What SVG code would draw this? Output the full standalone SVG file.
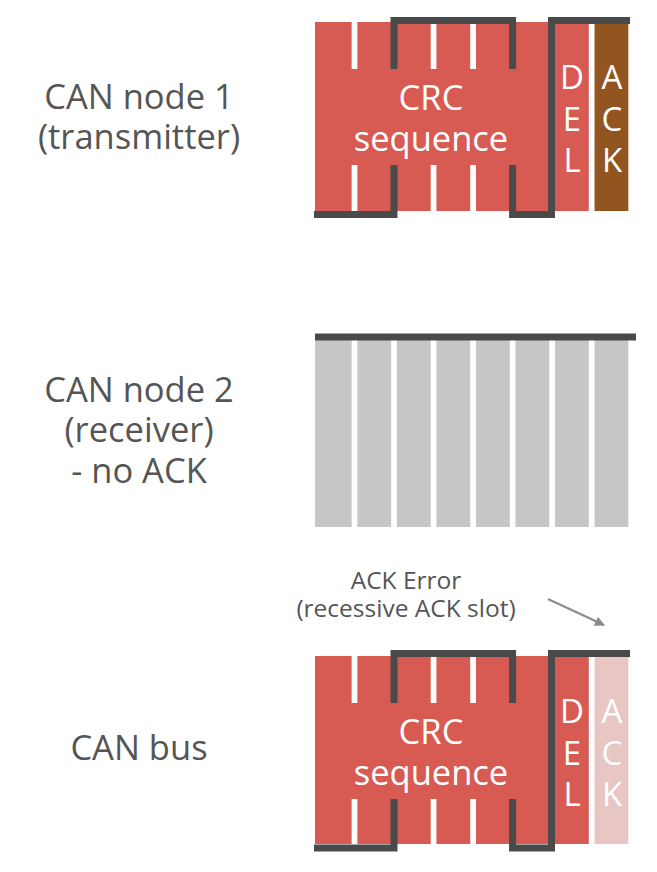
<svg xmlns="http://www.w3.org/2000/svg" width="657" height="872" viewBox="0 0 657 872">
<style>
.lbl{font-family:"Open Sans","Liberation Sans",sans-serif;font-size:34.5px;fill:#555555;text-anchor:middle}
.note{font-family:"Open Sans","Liberation Sans",sans-serif;font-size:24.5px;fill:#555555;text-anchor:middle}
.in{font-family:"Open Sans","Liberation Sans",sans-serif;font-size:34.5px;fill:#ffffff;text-anchor:middle}
.ch{font-family:"Open Sans","Liberation Sans",sans-serif;font-size:33px;fill:#ffffff;text-anchor:middle}
.red{fill:#d75b53}
.gap{fill:#ffffff}
.gray{fill:#c6c6c6}
.sig{fill:none;stroke:#4a4a4a;stroke-width:7;stroke-linejoin:miter;stroke-linecap:butt}
</style>
<defs>
<marker id="ah" markerWidth="10" markerHeight="10" refX="9" refY="5" orient="auto" markerUnits="userSpaceOnUse" viewBox="0 0 10 10">
<path d="M0,0 L10,5 L0,10 z" fill="#8a8a8a"/>
</marker>
</defs>
<rect width="657" height="872" fill="#ffffff"/>

<g id="label-node1">
<text class="lbl" x="139" y="108.5">CAN node 1</text>
<text class="lbl" x="139" y="148.5">(transmitter)</text>
</g>
<g id="label-node2">
<text class="lbl" x="139" y="401.5">CAN node 2</text>
<text class="lbl" x="139" y="442">(receiver)</text>
<text class="lbl" x="139" y="483">- no ACK</text>
</g>
<g id="label-bus">
<text class="lbl" x="139" y="759.5">CAN bus</text>
</g>

<g id="node1-frame">
<rect class="red" x="315" y="22" width="273.8" height="189"/>
<rect class="gap" x="351.65" y="22" width="5.7" height="47"/>
<rect class="gap" x="351.65" y="165" width="5.7" height="46"/>
<rect class="gap" x="430.71" y="22" width="5.7" height="47"/>
<rect class="gap" x="430.71" y="165" width="5.7" height="46"/>
<rect class="gap" x="470.24" y="22" width="5.7" height="47"/>
<rect class="gap" x="470.24" y="165" width="5.7" height="46"/>
<rect x="594.53" y="22" width="33.8" height="189" fill="#92551f"/>
<text class="in" x="431" y="110">CRC</text>
<text class="in" x="431" y="151">sequence</text>
<text class="ch" x="572" y="88.5">D</text>
<text class="ch" x="572" y="130.5">E</text>
<text class="ch" x="572" y="172">L</text>
<text class="ch" x="612" y="88.5">A</text>
<text class="ch" x="612" y="130.5">C</text>
<text class="ch" x="612" y="172">K</text>
</g>

<g id="node2-frame">
<rect class="gray" x="315" y="340" width="36.65" height="187"/>
<rect class="gray" x="357.35" y="340" width="33.83" height="187"/>
<rect class="gray" x="396.88" y="340" width="33.83" height="187"/>
<rect class="gray" x="436.41" y="340" width="33.83" height="187"/>
<rect class="gray" x="475.94" y="340" width="33.83" height="187"/>
<rect class="gray" x="515.47" y="340" width="33.83" height="187"/>
<rect class="gray" x="555.0" y="340" width="33.83" height="187"/>
<rect class="gray" x="594.53" y="340" width="33.8" height="187"/>
</g>

<g id="bus-frame">
<rect class="red" x="315" y="656" width="273.8" height="188"/>
<rect class="gap" x="351.65" y="656" width="5.7" height="47"/>
<rect class="gap" x="351.65" y="799" width="5.7" height="45"/>
<rect class="gap" x="430.71" y="656" width="5.7" height="47"/>
<rect class="gap" x="430.71" y="799" width="5.7" height="45"/>
<rect class="gap" x="470.24" y="656" width="5.7" height="47"/>
<rect class="gap" x="470.24" y="799" width="5.7" height="45"/>
<rect x="594.53" y="656" width="33.8" height="188" fill="#e8c6c4"/>
<text class="in" x="431" y="744">CRC</text>
<text class="in" x="431" y="785">sequence</text>
<text class="ch" x="572" y="722.5">D</text>
<text class="ch" x="572" y="764.5">E</text>
<text class="ch" x="572" y="806">L</text>
<text class="ch" x="612" y="722.5">A</text>
<text class="ch" x="612" y="764.5">C</text>
<text class="ch" x="612" y="806">K</text>
</g>

<g id="ack-error-note">
<text class="note" x="406" y="588.5">ACK Error</text>
<text class="note" x="406" y="617">(recessive ACK slot)</text>
</g>

<g id="connectors">
<path class="sig" d="M314,214.5 H394 V165"/>
<path class="sig" d="M394,69 V20.5 H512.6 V69"/>
<path class="sig" d="M512.6,165 V214.5 H551.5 V20.5 H630"/>
<path class="sig" d="M315,337 H636"/>
<path class="sig" d="M314,848 H394 V799"/>
<path class="sig" d="M394,703 V653.5 H512.6 V703"/>
<path class="sig" d="M512.6,799 V848 H551.5 V653.5 H630"/>
<line x1="548" y1="599" x2="604" y2="625" stroke="#8a8a8a" stroke-width="2" marker-end="url(#ah)"/>
</g>
</svg>
